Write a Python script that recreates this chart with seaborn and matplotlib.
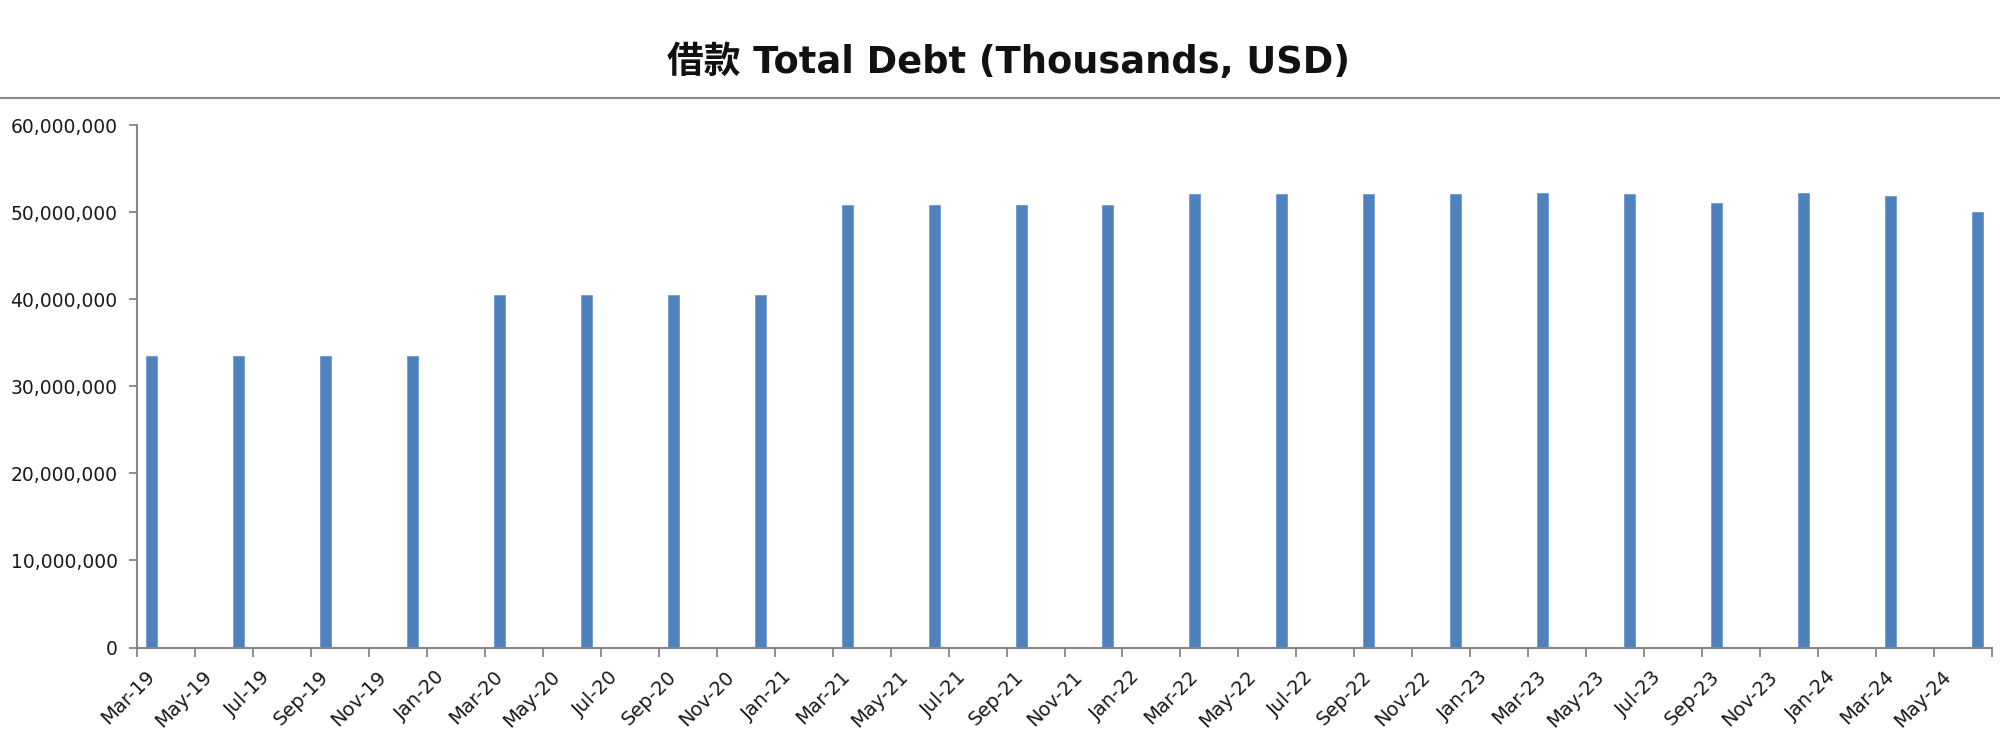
import matplotlib
matplotlib.use("Agg")
import matplotlib.pyplot as plt
from matplotlib.lines import Line2D
from matplotlib.ticker import FuncFormatter
import seaborn as sns
import pandas as pd
import numpy as np

# ---------------- data ----------------
quarters = ["Mar-19", "Jun-19", "Sep-19", "Dec-19",
            "Mar-20", "Jun-20", "Sep-20", "Dec-20",
            "Mar-21", "Jun-21", "Sep-21", "Dec-21",
            "Mar-22", "Jun-22", "Sep-22", "Dec-22",
            "Mar-23", "Jun-23", "Sep-23", "Dec-23",
            "Mar-24", "Jun-24"]
total_debt = [33.46e6, 33.46e6, 33.46e6, 33.46e6,
              40.52e6, 40.52e6, 40.52e6, 40.52e6,
              50.86e6, 50.86e6, 50.86e6, 50.86e6,
              52.09e6, 52.09e6, 52.09e6, 52.09e6,
              52.28e6, 52.09e6, 51.05e6, 52.28e6,
              51.90e6, 50.02e6]
tick_labels = ["Mar-19", "May-19", "Jul-19", "Sep-19", "Nov-19",
               "Jan-20", "Mar-20", "May-20", "Jul-20", "Sep-20", "Nov-20",
               "Jan-21", "Mar-21", "May-21", "Jul-21", "Sep-21", "Nov-21",
               "Jan-22", "Mar-22", "May-22", "Jul-22", "Sep-22", "Nov-22",
               "Jan-23", "Mar-23", "May-23", "Jul-23", "Sep-23", "Nov-23",
               "Jan-24", "Mar-24", "May-24"]
axis_first_month = "Mar-19"
axis_last_month = "Jun-24"
y_ticks = [0, 10e6, 20e6, 30e6, 40e6, 50e6, 60e6]
title = "借款 Total Debt (Thousands, USD)"

# ---------------- helpers ----------------
def month_index(label):
    d = pd.to_datetime(label, format="%b-%y")
    s = pd.to_datetime(axis_first_month, format="%b-%y")
    return (d.year - s.year) * 12 + (d.month - s.month)

n_months = month_index(axis_last_month) + 1
bar_pos = [month_index(q) + 0.5 for q in quarters]
df = pd.DataFrame({"pos": bar_pos, "debt": total_debt})

# ---------------- style ----------------
sns.set_style("white")
plt.rcParams["font.family"] = ["DejaVu Sans", "Noto Sans CJK SC"]

AXIS_GRAY = "#868686"
BAR_BLUE = "#4F81BD"

fig = plt.figure(figsize=(20, 7.49), dpi=100)
ax = fig.add_axes([0.0685, 0.1355, 0.9275, 0.6971])

sns.barplot(data=df, x="pos", y="debt", native_scale=True, width=0.127,
            color=BAR_BLUE, saturation=1, edgecolor="#6E9BD0", linewidth=0.6,
            ax=ax)

ax.set_xlim(0, n_months)
ax.set_ylim(y_ticks[0], y_ticks[-1])
ax.set_xlabel("")
ax.set_ylabel("")

# major ticks: slot boundaries every 2 months (marks only)
ax.set_xticks(np.arange(0, n_months + 1, 2))
ax.set_xticklabels([])
ax.tick_params(axis="x", which="major", direction="out", length=6.5,
               width=1.3, color=AXIS_GRAY, bottom=True)
# minor ticks: labels at slot centres
lab_pos = [month_index(t) + 0.5 for t in tick_labels]
ax.set_xticks(lab_pos, minor=True)
ax.set_xticklabels(tick_labels, minor=True, rotation=45, ha="right",
                   va="center", rotation_mode="anchor", fontsize=14,
                   color="#1a1a1a")
ax.tick_params(axis="x", which="minor", length=0, pad=19)

ax.set_yticks(y_ticks)
ax.yaxis.set_major_formatter(FuncFormatter(lambda v, p: f"{v:,.0f}"))
ax.tick_params(axis="y", direction="out", length=6, width=1.3,
               color=AXIS_GRAY, left=True, labelsize=13.5,
               labelcolor="#1a1a1a", pad=8)

for s in ["top", "right"]:
    ax.spines[s].set_visible(False)
for s in ["left", "bottom"]:
    ax.spines[s].set_color(AXIS_GRAY)
    ax.spines[s].set_linewidth(1.5)
ax.grid(False)

# title and separator line
fig.text(0.5045, 0.917, title, ha="center", va="center", fontsize=26.5,
         fontweight="bold", color="#111111")
fig.add_artist(Line2D([0, 1], [1 - 98 / 749, 1 - 98 / 749],
                      transform=fig.transFigure, color="#8a8a8a",
                      linewidth=1.5))

fig.savefig("out.png", dpi=100, facecolor="white")
